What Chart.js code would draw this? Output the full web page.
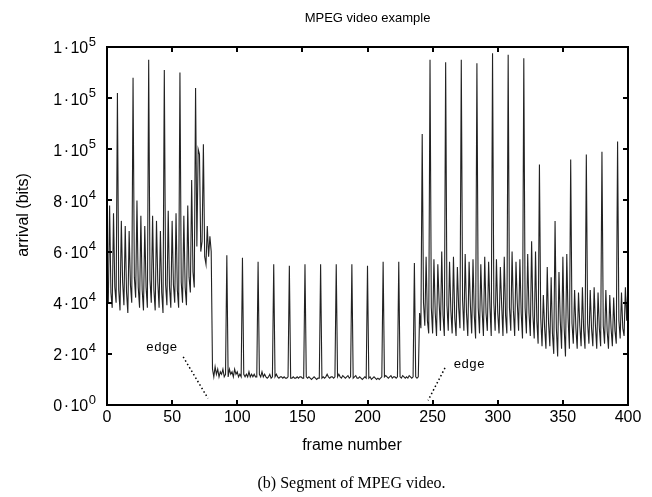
<!DOCTYPE html>
<html>
<head>
<meta charset="utf-8">
<script src="https://cdn.jsdelivr.net/npm/chart.js@4.4.1/dist/chart.umd.min.js"></script>
<style>
  html, body { margin: 0; padding: 0; background: #fff; }
  canvas { display: block; }
</style>
</head>
<body>
<canvas id="c" width="652" height="497"></canvas>
<script>
// ---- data (arrival per frame, in kbit) ----
// frames 0..80
const leftSegmentKbit = [
  48,40,78,44,38,75,46,40,122,45,37,72,
  48,39,70,44,36,68,47,40,128,50,42,80,
  46,38,74,45,37,70,46,38,135,49,40,74,
  45,37,72,48,38,68,44,36,131,47,39,76,
  46,38,72,47,40,75,45,38,130,48,40,74,
  46,39,78,50,44,88,52,46,124,62,100,98,
  60,64,102,58,55,70,58,66,60
];
// frames 81..241
const middleSegmentKbit = [
  14,11,15,12,14,11,13,12,14,11,12,
  58.6,11,14,12,13,11,14,12,13,11,12,11,
  57.6,12,11,12,11,13,11,12,11,12,11,11,
  56,12,11,13,11,12,11,10.5,11,12,10.5,11,
  55,11,12,11,10.5,11,11,10.5,11,10.5,10.5,11,
  54.5,10.5,10.5,11,10.5,10.5,11,10.5,11,11,10.5,10.5,
  55,11,10.5,11,10.5,10,10.5,11,10.5,10,10.5,10.5,
  55,10.5,11,10.5,11,12,11,10.5,11,11,10.5,11,
  55,11,12,11,10.5,11.5,11,10.5,11,11.5,10.5,11,
  55,10.5,11,11.5,10.5,10.5,11,10.5,10,10.5,11,10.5,
  54.5,10.5,11,10,10.5,11,10.5,10,10.5,10,10.5,11,
  56,11,11.5,11,10.5,11,11.5,10.5,11,11,10.5,11,
  56,11,10.5,11.5,11,10.5,11,10.5,11.5,11,10.5,11,
  55.5,11,10.5,11,36,30
];
// frames 242..400
const rightSegmentKbit = [
  106,40,31,58,33,28,
  135,38,28,57,36,27,55,40,29,60,35,27,
  134,39,29,56,37,28,58,34,27,54,38,30,
  135,41,29,59,36,27,56,39,28,57,35,26,
  133.6,38,28,55,37,27,58,36,29,56,38,27,
  137.6,40,29,57,36,28,54,39,27,58,35,28,
  137,38,29,60,37,27,56,40,29,57,36,26,
  135.6,38,28,59,36,27,64,35,26,60,33,24,
  94,34,23,43,30,22,54,32,23,50,28,20,
  72,30,19,52,33,22,58,30,19,59,34,22,
  96,32,24,45,30,22,44,31,23,46,29,22,
  98,32,24,45,30,23,46,31,22,44,30,23,
  99,31,24,45,29,22,43,30,23,42,29,24,
  103,33,26,44,30,27,46,33,48
];

const xTickLabels = ['0','50','100','150','200','250','300','350','400'];
// y tick labels: mantissa · 10^exponent (0, 2e4 ... 1.4e5 as printed by gnuplot)
const yTickMantissas = ['0','2','4','6','8','1','1','1'];
const yTickExponents = ['0','4','4','4','4','5','5','5'];

// "edge" annotations, in data coordinates (frame, bits)
const edgeNotes = [
  { text: 'edge', at: [42, 22300], from: [58.5, 18800], to: [77.5, 2600] },
  { text: 'edge', at: [278, 16000], from: [259.5, 14500], to: [246.5, 1800] }
];

// ---- build ----
const arrivalKbit = leftSegmentKbit.concat(middleSegmentKbit, rightSegmentKbit);
const points = arrivalKbit.map((v, frame) => ({ x: frame, y: v * 1000 }));
const SANS = '"Liberation Sans", Arial, Helvetica, sans-serif';

const frameAndTicks = {
  id: 'frameAndTicks',
  afterDatasetsDraw(chart) {
    const { ctx, chartArea: a, scales: { x, y } } = chart;
    ctx.save();
    ctx.strokeStyle = '#000';
    ctx.lineWidth = 2;
    const len = 5;
    ctx.beginPath();
    x.ticks.forEach(t => {
      const px = Math.round(x.getPixelForValue(t.value));
      if (px <= a.left + 1 || px >= a.right - 1) return;
      ctx.moveTo(px, a.bottom); ctx.lineTo(px, a.bottom - len);
      ctx.moveTo(px, a.top); ctx.lineTo(px, a.top + len);
    });
    y.ticks.forEach(t => {
      const py = Math.round(y.getPixelForValue(t.value));
      if (py <= a.top + 1 || py >= a.bottom - 1) return;
      ctx.moveTo(a.left, py); ctx.lineTo(a.left + len, py);
      ctx.moveTo(a.right, py); ctx.lineTo(a.right - len, py);
    });
    ctx.stroke();
    ctx.strokeRect(a.left, a.top, a.right - a.left, a.bottom - a.top);
    ctx.restore();
  }
};

// y tick labels with real superscript exponents
const yTickText = {
  id: 'yTickText',
  afterDraw(chart) {
    const { ctx, chartArea: a, scales: { y } } = chart;
    ctx.save();
    ctx.fillStyle = '#000';
    ctx.textBaseline = 'middle';
    y.ticks.forEach((t, i) => {
      const py = y.getPixelForValue(t.value);
      let xr = a.left - 11;
      ctx.font = '13px ' + SANS;
      ctx.textAlign = 'right';
      ctx.fillText(yTickExponents[i], xr, py - 5);
      xr -= ctx.measureText(yTickExponents[i]).width + 0.5;
      ctx.font = '16px ' + SANS;
      ctx.fillText('10', xr, py + 2);
      xr -= ctx.measureText('10').width + 1.5;
      ctx.fillText('\u00b7', xr, py + 2);
      xr -= ctx.measureText('\u00b7').width + 1.5;
      ctx.fillText(yTickMantissas[i], xr, py + 2);
    });
    ctx.restore();
  }
};

const edgeAnnotations = {
  id: 'edgeAnnotations',
  afterDatasetsDraw(chart) {
    const { ctx, scales: { x, y } } = chart;
    ctx.save();
    ctx.fillStyle = '#000';
    ctx.strokeStyle = '#000';
    ctx.font = '13px "Liberation Mono", "DejaVu Sans Mono", monospace';
    ctx.textAlign = 'center';
    ctx.textBaseline = 'middle';
    edgeNotes.forEach(n => {
      ctx.fillText(n.text, x.getPixelForValue(n.at[0]), y.getPixelForValue(n.at[1]));
      ctx.setLineDash([1.5, 2.5]);
      ctx.lineWidth = 1.5;
      ctx.beginPath();
      ctx.moveTo(x.getPixelForValue(n.from[0]), y.getPixelForValue(n.from[1]));
      ctx.lineTo(x.getPixelForValue(n.to[0]), y.getPixelForValue(n.to[1]));
      ctx.stroke();
    });
    ctx.restore();
  }
};

Chart.defaults.font.family = SANS;
Chart.defaults.color = '#000';

new Chart(document.getElementById('c'), {
  type: 'line',
  data: {
    datasets: [{
      data: points,
      borderColor: '#222',
      borderWidth: 1.1,
      pointRadius: 0,
      tension: 0,
      fill: false
    }]
  },
  options: {
    responsive: false,
    animation: false,
    devicePixelRatio: 1,
    layout: { padding: { left: 0, right: 24, top: 0, bottom: 0 } },
    plugins: {
      legend: { display: false },
      tooltip: { enabled: false },
      title: {
        display: true,
        text: 'MPEG video example',
        fullSize: false,
        color: '#000',
        font: { size: 13, weight: 'normal' },
        padding: { top: 11, bottom: 20.4 }
      },
      subtitle: {
        display: true,
        position: 'bottom',
        text: '(b) Segment of MPEG video.        ',
        fullSize: false,
        color: '#000',
        font: { family: '"Liberation Serif", "Times New Roman", serif', size: 16, weight: 'normal' },
        padding: { top: 9.4, bottom: 3.4 }
      }
    },
    scales: {
      x: {
        type: 'linear',
        min: 0,
        max: 400,
        grid: { display: false, drawTicks: false },
        border: { display: false },
        ticks: {
          stepSize: 50,
          autoSkip: false,
          maxRotation: 0,
          padding: 3.4,
          font: { size: 16 },
          color: '#000',
          callback: (v, i) => xTickLabels[i]
        },
        title: {
          display: true,
          text: 'frame number       ',
          font: { size: 16 },
          color: '#000',
          padding: { top: 0, bottom: 9.4 }
        },
        afterFit: s => { s.height = 60; }
      },
      y: {
        type: 'linear',
        min: 0,
        max: 140000,
        grid: { display: false, drawTicks: false },
        border: { display: false },
        ticks: {
          stepSize: 20000,
          autoSkip: false,
          display: false
        },
        title: {
          display: true,
          text: '     arrival (bits)',
          font: { size: 16 },
          color: '#000',
          padding: { top: 13.6, bottom: 0 }
        },
        afterFit: s => { s.width = 107; }
      }
    }
  },
  plugins: [frameAndTicks, yTickText, edgeAnnotations]
});
</script>
</body>
</html>
